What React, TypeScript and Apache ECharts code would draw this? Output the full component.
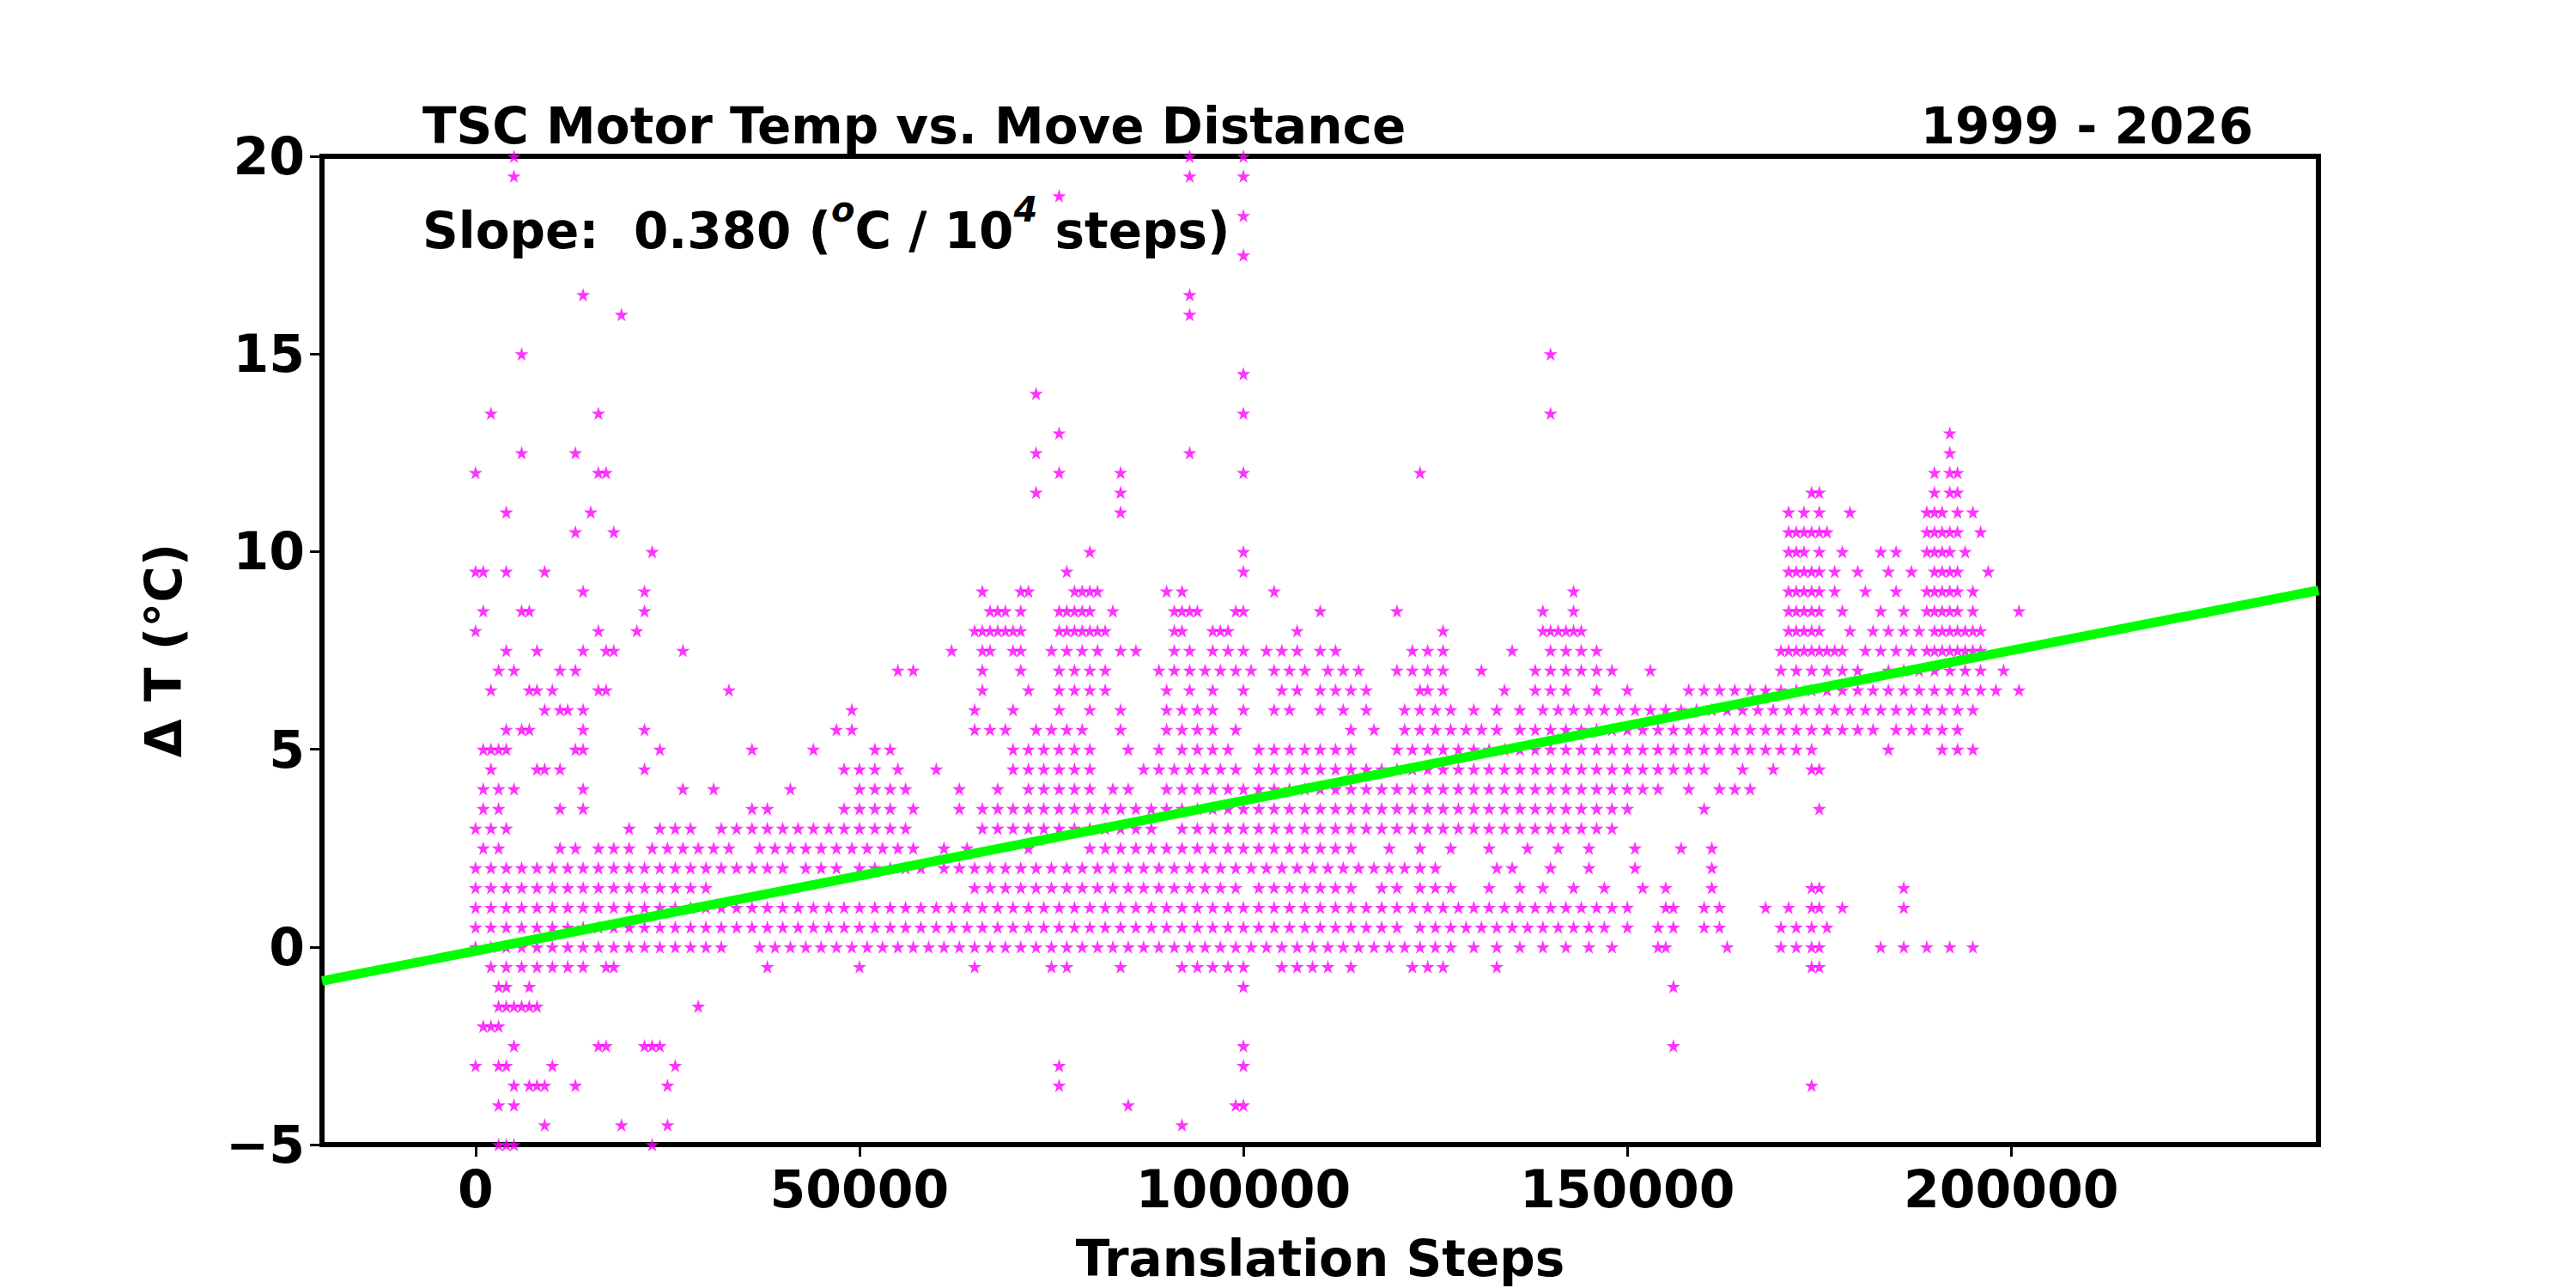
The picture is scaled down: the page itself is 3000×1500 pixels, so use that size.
import React, { useEffect, useRef } from "react";
import * as echarts from "echarts";

// x values in thousands of translation steps, grouped by ΔT level (°C)
const levels: [number, string][] = [
  [20, "5 93 100"],
  [19.5, "5 93 100"],
  [19, "76"],
  [18.5, "100"],
  [17.5, "100"],
  [16.5, "14 93"],
  [16, "19 93"],
  [15, "6 140"],
  [14.5, "100"],
  [14, "73"],
  [13.5, "2 16 100 140"],
  [13, "76 192"],
  [12.5, "6 13 73 93 192"],
  [12, "0 16 17 76 84 100 123 190 192 193"],
  [11.5, "73 84 174 175 190 192 193"],
  [11, "4 15 84 171 173 175 179 189 190 191 193 195"],
  [10.5, "13 18 171 172 173 174 175 176 189 190 191 192 193 196"],
  [10, "23 80 100 171 172 173 175 178 183 185 189 190 191 192 194"],
  [9.5, "0 1 4 9 77 100 171 172 173 174 175 177 180 184 187 190 191 192 193 197"],
  [9, "14 22 66 71 72 78 79 80 81 90 92 104 143 171 172 173 174 175 177 181 185 189 190 191 192 193 195"],
  [8.5, "1 6 7 22 67 68 69 71 76 77 78 79 80 83 91 92 93 94 99 100 110 120 139 143 171 172 173 174 175 178 183 186 189 190 191 192 193 195 201"],
  [8, "0 16 21 65 66 67 68 69 70 71 76 77 78 79 80 81 82 91 92 96 97 98 107 126 139 140 141 142 143 144 171 172 173 174 175 179 182 184 186 188 190 191 192 193 194 195 196"],
  [7.5, "4 8 14 17 18 27 62 66 67 70 71 75 77 79 81 84 86 91 93 96 98 100 103 105 107 110 112 122 124 126 135 140 142 144 146 170 171 172 173 174 175 176 177 178 181 183 185 187 189 190 191 192 193 194 195 196"],
  [7, "3 5 11 13 55 57 66 71 76 78 80 82 89 91 93 95 97 99 101 104 106 108 111 113 115 120 122 124 126 131 138 140 142 144 146 148 153 170 172 174 176 178 180 184 186 188 190 192 194 196 199"],
  [6.5, "2 7 8 10 16 17 33 66 72 76 78 80 82 90 93 96 100 105 107 110 112 114 116 123 124 126 134 138 140 142 146 150 158 160 162 164 166 168 170 172 174 176 178 180 182 184 186 188 190 192 194 196 198 201"],
  [6, "9 11 12 14 49 65 70 76 80 84 90 92 94 96 100 104 106 110 113 116 121 123 125 127 130 133 136 139 141 143 145 147 149 151 153 155 157 159 161 163 165 167 169 171 173 175 177 179 181 183 185 187 189 191 193 195"],
  [5.5, "4 6 7 14 22 47 49 65 67 69 73 75 77 79 84 90 92 94 96 99 114 117 121 123 125 127 129 131 133 136 138 140 142 144 146 148 150 152 154 156 158 160 162 164 166 168 170 172 174 176 178 180 182 185 187 189 191 193"],
  [5, "1 2 3 4 13 14 24 36 44 52 54 70 72 74 76 78 80 85 89 92 94 96 98 102 104 106 108 110 112 114 120 122 124 126 128 130 132 134 136 138 140 142 144 146 148 150 152 154 156 158 160 162 164 166 168 170 172 174 184 191 193 195"],
  [4.5, "2 8 9 11 22 48 50 52 55 60 70 72 74 76 78 80 87 89 91 93 95 97 99 102 104 106 108 110 112 114 116 118 120 122 124 126 128 130 132 134 136 138 140 142 144 146 148 150 152 154 156 158 160 165 169 174 175"],
  [4, "1 3 5 14 27 31 41 50 52 54 56 63 68 72 74 76 78 80 83 85 90 92 94 96 98 100 102 104 106 108 110 112 114 116 118 120 122 124 126 128 130 132 134 136 138 140 142 144 146 148 150 152 154 158 162 164 166"],
  [3.5, "1 3 11 14 36 38 48 50 52 54 57 63 66 68 70 72 74 76 78 80 82 84 86 88 90 92 94 96 98 100 102 104 106 108 110 112 114 116 118 120 122 124 126 128 130 132 134 136 138 140 142 144 146 148 150 160 175"],
  [3, "0 2 4 20 24 26 28 32 34 36 38 40 42 44 46 48 50 52 54 56 66 68 70 72 74 76 78 80 82 84 86 88 92 94 96 98 100 102 104 106 108 110 112 114 116 118 120 122 124 126 128 130 132 134 136 138 140 142 144 146 148"],
  [2.5, "1 3 11 13 16 18 20 23 25 27 29 31 33 37 39 41 43 45 47 49 51 53 55 57 61 64 72 80 82 84 86 88 90 92 94 96 98 100 102 104 106 108 110 112 114 119 123 127 132 137 141 145 151 157 161"],
  [2, "0 2 4 6 8 10 12 14 16 18 20 22 24 26 28 30 32 34 36 38 40 43 45 47 50 52 54 56 58 61 63 65 67 69 71 73 75 77 79 81 83 85 87 89 91 93 95 97 99 101 103 105 107 109 111 113 115 117 119 121 123 125 133 135 140 145 151 161"],
  [1.5, "0 2 4 6 8 10 12 14 16 18 20 22 24 26 28 30 65 67 69 71 73 75 77 79 81 83 85 87 89 91 93 95 97 99 102 104 106 108 110 112 114 118 120 123 125 127 132 136 139 143 147 152 155 161 174 175 186"],
  [1, "0 2 4 6 8 10 12 14 16 18 20 22 24 26 28 30 32 34 36 38 40 42 44 46 48 50 52 54 56 58 60 62 64 66 68 70 72 74 76 78 80 82 84 86 88 90 92 94 96 98 100 102 104 106 108 110 112 114 116 118 120 122 124 126 128 130 132 134 136 138 140 142 144 146 148 150 155 156 160 162 168 171 174 175 178 186"],
  [0.5, "0 2 4 6 8 10 12 14 16 18 20 22 24 26 28 30 32 34 36 38 40 42 44 46 48 50 52 54 56 58 60 62 64 66 68 70 72 74 76 78 80 82 84 86 88 90 92 94 96 98 100 102 104 106 108 110 112 114 116 118 120 123 125 127 129 131 133 135 137 139 141 143 145 147 150 154 156 160 162 170 172 174 176"],
  [0, "0 2 4 6 8 10 12 14 16 18 20 22 24 26 28 30 32 37 39 41 43 45 47 49 51 53 55 57 59 61 63 65 67 69 71 73 75 77 79 81 83 85 87 89 91 93 95 97 99 101 103 105 107 109 111 113 115 117 119 121 123 125 127 130 133 136 139 142 145 148 154 155 163 170 172 174 175 183 186 189 192 195"],
  [-0.5, "2 4 6 8 10 12 14 17 18 38 50 65 75 77 84 92 94 96 98 100 105 107 109 111 114 122 124 126 133 174 175"],
  [-1, "3 4 7 100 156"],
  [-1.5, "3 4 5 6 7 8 29"],
  [-2, "1 2 3"],
  [-2.5, "5 16 17 22 23 24 100 156"],
  [-3, "0 3 4 10 26 76 100"],
  [-3.5, "5 7 8 9 13 25 76 174"],
  [-4, "3 5 85 99 100"],
  [-4.5, "9 19 25 92"],
  [-5, "3 4 5 23"],
];

const slopePer1e4 = 0.38;
const intercept = -0.1;
const xMin = -20000;
const xMax = 240000;
const xTicks = [0, 50000, 100000, 150000, 200000];
const yTicks = [-5, 0, 5, 10, 15, 20];

const STAR = "path://M50,0 L61,35 L98,35 L68,57 L79,91 L50,70 L21,91 L32,57 L2,35 L39,35 Z";
const FONT = "DejaVu Sans";

export default function App() {
  const ref = useRef<HTMLDivElement>(null);
  useEffect(() => {
    document.body.style.margin = "0";
    const chart = echarts.init(ref.current!, null, { renderer: "svg" });
    const pts: number[][] = [];
    levels.forEach(([y, s]) => s.split(" ").forEach((v) => pts.push([Number(v) * 1000, y])));
    const fit = (x: number) => intercept + (slopePer1e4 * x) / 10000;
    chart.setOption({
      animation: false,
      backgroundColor: "#fff",
      grid: { left: 375, top: 182, width: 2325, height: 1151, show: true, borderColor: "#000", borderWidth: 6, backgroundColor: "transparent" },
      xAxis: {
        type: "value", min: xMin, max: xMax,
        name: "Translation Steps", nameLocation: "middle", nameGap: 104,
        nameTextStyle: { fontFamily: FONT, fontWeight: "bold", fontSize: 58, color: "#000" },
        splitLine: { show: false },
        axisLine: { show: true, onZero: false, lineStyle: { color: "#000", width: 6 } },
        axisTick: { show: true, length: 14, lineStyle: { width: 3, color: "#000" }, customValues: xTicks },
        axisLabel: { fontFamily: FONT, fontWeight: "bold", fontSize: 60, color: "#000", margin: 22, customValues: xTicks, formatter: (v: number) => String(v) },
      },
      yAxis: {
        type: "value", min: -5, max: 20, interval: 5,
        name: "Δ T (°C)", nameLocation: "middle", nameGap: 155,
        nameTextStyle: { fontFamily: FONT, fontWeight: "bold", fontSize: 58, color: "#000" },
        splitLine: { show: false },
        axisLine: { show: true, onZero: false, lineStyle: { color: "#000", width: 6 } },
        axisTick: { show: true, length: 14, lineStyle: { width: 3, color: "#000" }, customValues: yTicks },
        axisLabel: { fontFamily: FONT, fontWeight: "bold", fontSize: 60, color: "#000", margin: 20, customValues: yTicks, formatter: (v: number) => (v < 0 ? "\u2212" + Math.abs(v) : String(v)) },
      },
      series: [
        { type: "scatter", data: pts, symbol: STAR, symbolSize: 16, itemStyle: { color: "#ff00ff" }, silent: true },
        { type: "line", data: [[xMin, fit(xMin)], [xMax, fit(xMax)]], showSymbol: false, lineStyle: { color: "#00ff00", width: 11 }, silent: true },
      ],
      graphic: [
        { type: "text", left: 492, top: 118, style: { text: "TSC Motor Temp vs. Move Distance", font: `bold 58px '${FONT}'`, fill: "#000" } },
        { type: "text", right: 376, top: 118, style: { text: "1999 - 2026", font: `bold 58px '${FONT}'`, fill: "#000" } },
        {
          type: "text", left: 492, top: 224,
          style: {
            text: "{n|Slope:  0.380 (}{s|o}{n|C / 10}{s|4}{n| steps)}",
            rich: {
              n: { fontFamily: FONT, fontWeight: "bold", fontSize: 58, fill: "#000", verticalAlign: "bottom", lineHeight: 74 },
              s: { fontFamily: FONT, fontWeight: "bold", fontSize: 40, fontStyle: "italic", fill: "#000", verticalAlign: "top", lineHeight: 74, padding: [0, 0, 30, 0] },
            },
          },
        },
      ],
    });
    return () => chart.dispose();
  }, []);
  return <div ref={ref} style={{ width: 3000, height: 1500 }} />;
}
